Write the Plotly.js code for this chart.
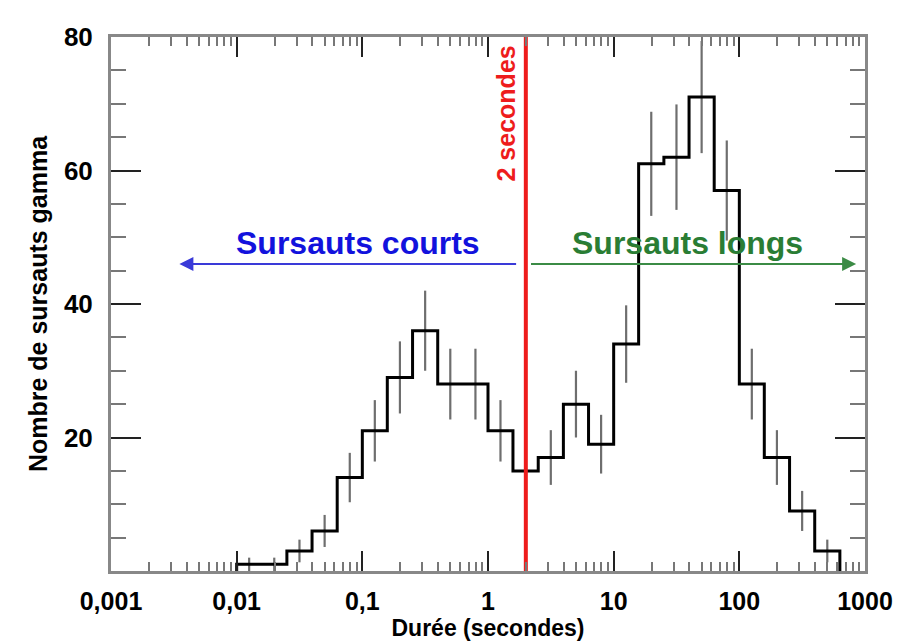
<!DOCTYPE html>
<html>
<head>
<meta charset="utf-8">
<script src="https://cdn.plot.ly/plotly-3.0.1.min.js"></script>
<style>
  html, body { margin: 0; padding: 0; background: #fff; }
  #chart { width: 900px; height: 642px; }
</style>
</head>
<body>
<div id="chart"></div>
<script>
// Durées des sursauts gamma : histogramme en pas logarithmiques

// bords des classes (secondes)
const binEdges = [0.01, 0.0158, 0.0251, 0.0398, 0.0631, 0.1, 0.158, 0.251, 0.398, 0.631,
                  1, 1.58, 2.51, 3.98, 6.31, 10, 15.8, 25.1, 39.8, 63.1,
                  100, 158, 251, 398, 631];
// nombre de sursauts par classe
const counts = [1, 1, 3, 6, 14, 21, 29, 36, 28, 28, 21, 15,
                17, 25, 19, 34, 61, 62, 71, 57, 28, 17, 9, 3];
// demi-longueur des barres d'erreur
const errors = [1, 1, 1.7, 2.4, 3.7, 4.6, 5.4, 6, 5.3, 5.3, 4.6, 3.9,
                4.1, 5, 4.4, 5.8, 7.8, 7.9, 8.4, 7.5, 5.3, 4.1, 3, 1.7];

const xTickVals = [0.001, 0.01, 0.1, 1, 10, 100, 1000];
const xTickText = ['0,001', '0,01', '0,1', '1', '10', '100', '1000'];
const yTickVals = [0, 20, 40, 60, 80];
const yTickText = ['', '20', '40', '60', '80'];

const seuil = 2; // secondes
const flecheCourts = { tail: 1.72, head: 0.0035, y: 46 };
const flecheLongs = { tail: 2.14, head: 850, y: 46 };

const FONT = 'Liberation Sans, Arial, sans-serif';

// contour en escalier
const stepX = [binEdges[0]].concat(binEdges);
stepX.push(binEdges[binEdges.length - 1]);
const stepY = [0].concat(counts);
stepY.push(counts[counts.length - 1], 0);

const centers = counts.map((c, i) => Math.sqrt(binEdges[i] * binEdges[i + 1]));

const data = [
    {
        type: 'scatter',
        mode: 'markers',
        x: centers,
        y: counts,
        marker: { size: 1, opacity: 0 },
        error_y: {
            type: 'data',
            array: errors,
            visible: true,
            color: '#6e6e6e',
            thickness: 2.2,
            width: 0
        },
        hoverinfo: 'skip'
    },
    {
        type: 'scatter',
        mode: 'lines',
        x: stepX,
        y: stepY,
        line: { color: '#000', width: 3, shape: 'hv' }
    },
    {
        type: 'scatter',
        mode: 'lines',
        x: [seuil, seuil],
        y: [0, 80],
        line: { color: '#ee1c1c', width: 4 }
    }
];

const layout = {
    width: 900,
    height: 642,
    margin: { l: 111, r: 35, t: 37, b: 71 },
    paper_bgcolor: '#fff',
    plot_bgcolor: '#fff',
    showlegend: false,
    font: { family: FONT, color: '#000' },
    xaxis: {
        type: 'log',
        range: [-3, 3],
        tickmode: 'array',
        tickvals: xTickVals,
        ticktext: xTickText,
        ticks: 'inside',
        ticklen: 20,
        tickwidth: 2,
        tickcolor: '#222',
        ticklabelstandoff: 6,
        tickfont: { size: 25, weight: 'bold', family: FONT, color: '#000' },
        minor: { ticks: 'inside', ticklen: 9, tickwidth: 2, tickcolor: '#777', dtick: 'D1' },
        showline: true,
        linecolor: '#888',
        linewidth: 3,
        mirror: 'allticks',
        showgrid: false,
        zeroline: false,
        title: {
            text: 'Durée (secondes)',
            font: { size: 23, weight: 'bold', family: FONT, color: '#000' },
            standoff: 3
        }
    },
    yaxis: {
        range: [0, 80],
        tickmode: 'array',
        tickvals: yTickVals,
        ticktext: yTickText,
        ticks: 'inside',
        ticklen: 30,
        tickwidth: 2,
        tickcolor: '#222',
        ticklabelstandoff: 10,
        tickfont: { size: 26, weight: 'bold', family: FONT, color: '#000' },
        minor: { ticks: 'inside', ticklen: 15, tickwidth: 2, tickcolor: '#777', dtick: 5 },
        showline: true,
        linecolor: '#888',
        linewidth: 3,
        mirror: 'allticks',
        showgrid: false,
        zeroline: false,
        title: {
            text: 'Nombre de sursauts gamma',
            font: { size: 25, weight: 'bold', family: FONT, color: '#000' },
            standoff: 10
        }
    },
    annotations: [
        {
            xref: 'x', yref: 'y',
            x: Math.log10(flecheCourts.head), y: flecheCourts.y,
            axref: 'x', ayref: 'y',
            ax: Math.log10(flecheCourts.tail), ay: flecheCourts.y,
            showarrow: true, arrowhead: 2, arrowsize: 1.4, arrowwidth: 2,
            arrowcolor: '#3a3ad8', text: ''
        },
        {
            xref: 'x', yref: 'y',
            x: Math.log10(flecheLongs.head), y: flecheLongs.y,
            axref: 'x', ayref: 'y',
            ax: Math.log10(flecheLongs.tail), ay: flecheLongs.y,
            showarrow: true, arrowhead: 2, arrowsize: 1.4, arrowwidth: 2,
            arrowcolor: '#3b8b45', text: ''
        },
        {
            xref: 'x', yref: 'y',
            x: -1.036, y: 49.2,
            text: 'Sursauts courts',
            showarrow: false,
            font: { size: 32, weight: 'bold', family: FONT, color: '#1212dd' }
        },
        {
            xref: 'x', yref: 'y',
            x: 1.585, y: 49.2,
            text: 'Sursauts longs',
            showarrow: false,
            font: { size: 32, weight: 'bold', family: FONT, color: '#2a7d34' }
        },
        {
            xref: 'x', yref: 'y',
            x: 0.141, y: 68.5,
            text: '2 secondes',
            textangle: -90,
            showarrow: false,
            font: { size: 25, weight: 'bold', family: FONT, color: '#ee1c1c' }
        }
    ]
};

Plotly.newPlot('chart', data, layout, { displayModeBar: false, staticPlot: true });
</script>
</body>
</html>
